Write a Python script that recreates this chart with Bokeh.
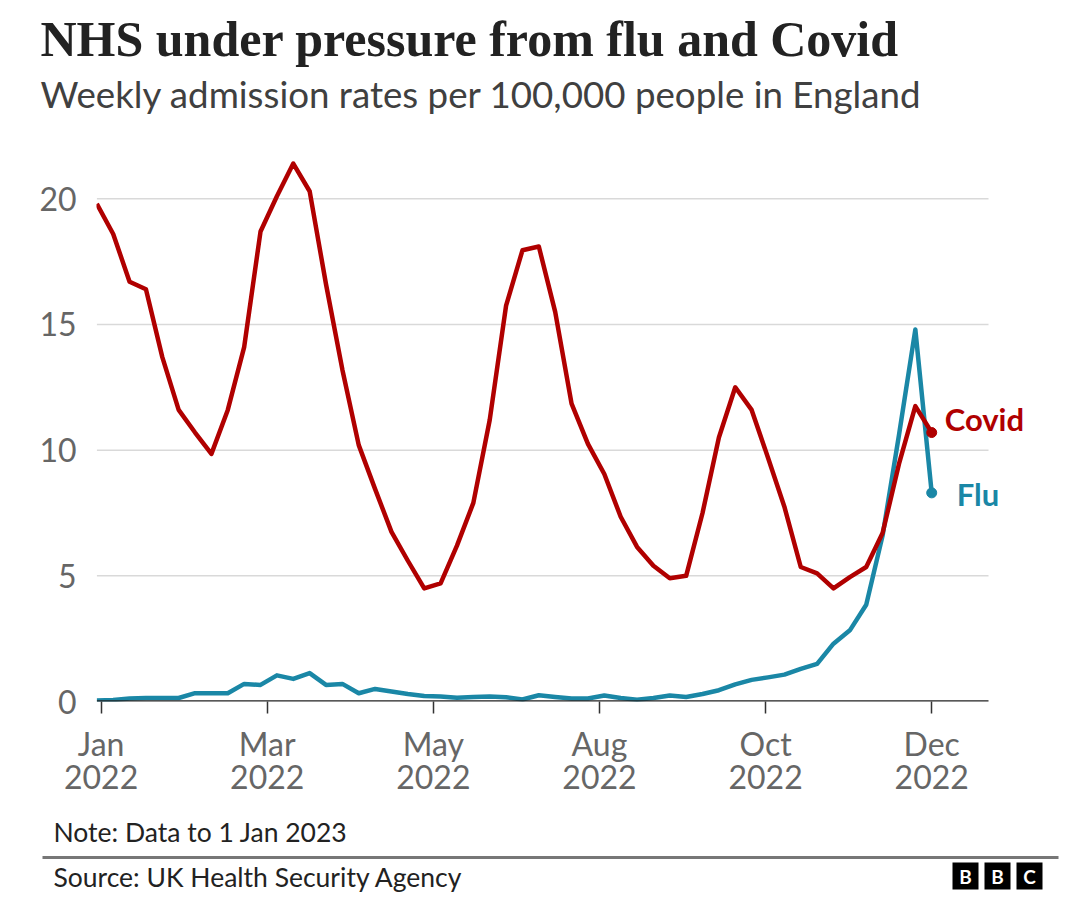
from bokeh.plotting import figure
from bokeh.layouts import column
from bokeh.models import Label, FixedTicker, Range1d, BoxAnnotation
from bokeh.embed import file_html
from bokeh.resources import INLINE

# ---- data (weekly admission rates per 100,000, England, 2022) ----
covid = [19.8, 18.6, 16.7, 16.4, 13.7, 11.6, 10.7, 9.85, 11.6, 14.1,
         18.7, 20.1, 21.4, 20.3, 16.6, 13.2, 10.2, 8.45, 6.75, 5.6,
         4.5, 4.7, 6.2, 7.9, 11.2, 15.75, 17.95, 18.1, 15.5, 11.85,
         10.25, 9.05, 7.35, 6.15, 5.4, 4.9, 5.0, 7.5, 10.5, 12.5,
         11.6, 9.7, 7.75, 5.35, 5.1, 4.5, 4.95, 5.35, 6.7, 9.45,
         11.75, 10.7]
flu = [0.04, 0.06, 0.12, 0.14, 0.14, 0.14, 0.33, 0.33, 0.33, 0.7,
       0.66, 1.04, 0.9, 1.13, 0.66, 0.7, 0.33, 0.5, 0.4, 0.3,
       0.22, 0.2, 0.15, 0.18, 0.2, 0.17, 0.08, 0.25, 0.18, 0.12,
       0.12, 0.24, 0.14, 0.07, 0.14, 0.24, 0.18, 0.3, 0.45, 0.68,
       0.86, 0.96, 1.07, 1.3, 1.5, 2.3, 2.83, 3.85, 6.6, 10.6,
       14.8, 8.3]
weeks = list(range(len(covid)))
tick_labels = ["Jan\n2022", "Mar\n2022", "May\n2022", "Aug\n2022", "Oct\n2022", "Dec\n2022"]
y_ticks = [0, 5, 10, 15, 20]

COVID = "#b00000"
FLU = "#1a87a6"
SANS = "Lato"
W = 1064
HEAD_H = 140
MAIN_H = 670
FOOT_H = 897 - HEAD_H - MAIN_H


def blank(height, y0, y1):
    f = figure(width=W, height=height, output_backend="svg", toolbar_location=None,
               title=None, x_range=Range1d(0, W), y_range=Range1d(y0, y1),
               min_border=0, x_axis_type=None, y_axis_type=None)
    f.outline_line_color = None
    f.xgrid.visible = False
    f.ygrid.visible = False
    f.border_fill_color = "white"
    f.frame_align = False
    return f


# ---- header ----
head = blank(HEAD_H, HEAD_H, 0)
head.add_layout(Label(x=40, y=38, text="NHS under pressure from flu and Covid",
                      text_font="Liberation Serif", text_font_style="bold",
                      text_font_size="50px", text_color="#222222", text_baseline="alphabetic"))
head.add_layout(Label(x=40, y=93, text="Weekly admission rates per 100,000 people in England",
                      text_font=SANS, text_font_size="36.7px", text_color="#404040",
                      text_baseline="alphabetic"))

# ---- main chart ----
x_end_grid = 54.47
p = figure(width=W, height=MAIN_H, output_backend="svg", toolbar_location=None, title=None,
           x_range=Range1d(-0.02, 57.89), y_range=Range1d(0, 22),
           min_border_left=96, min_border_right=20, min_border_top=8,
           min_border_bottom=MAIN_H - 8 - 553)
p.outline_line_color = None
p.border_fill_color = "white"
p.frame_align = False

step = (len(weeks) - 1 - 0.26) / (len(tick_labels) - 1)
xt = [0.26 + step * i for i in range(len(tick_labels))]
p.xaxis.ticker = FixedTicker(ticks=xt)
p.xaxis.major_label_overrides = {t: lab for t, lab in zip(xt, tick_labels)}
p.xaxis.axis_line_color = None
p.xaxis.major_tick_line_color = "#333333"
p.xaxis.major_tick_line_width = 1.5
p.xaxis.major_tick_out = 12
p.xaxis.major_tick_in = 0
p.xaxis.minor_tick_line_color = None
p.xaxis.major_label_text_font = SANS
p.xaxis.major_label_text_font_size = "32px"
p.xaxis.major_label_text_color = "#666666"
p.xaxis.major_label_text_line_height = 0.87
p.xaxis.major_label_standoff = 10

p.yaxis.ticker = FixedTicker(ticks=y_ticks)
p.yaxis.axis_line_color = None
p.yaxis.major_tick_line_color = None
p.yaxis.minor_tick_line_color = None
p.yaxis.major_label_text_font = SANS
p.yaxis.major_label_text_font_size = "32px"
p.yaxis.major_label_text_color = "#666666"
p.yaxis.major_label_standoff = 14

p.xgrid.visible = False
p.ygrid.visible = False
grid_y = y_ticks[1:]
p.segment(x0=[0] * len(grid_y), y0=grid_y, x1=[x_end_grid] * len(grid_y), y1=grid_y,
          line_color="#d9d9d9", line_width=1.5)

p.line(weeks, flu, line_color=FLU, line_width=4.5, line_join="round")
p.line(weeks, covid, line_color=COVID, line_width=4.5, line_join="round")
p.segment(x0=[0], y0=[0], x1=[x_end_grid], y1=[0], line_color="#222222", line_width=2.5)
p.scatter([weeks[-1]], [covid[-1]], size=10, color=COVID)
p.scatter([weeks[-1]], [flu[-1]], size=10, color=FLU)

p.add_layout(Label(x=weeks[-1], y=covid[-1], x_offset=13, y_offset=14, text="Covid",
                   text_font=SANS, text_font_style="bold", text_font_size="31px",
                   text_color=COVID, text_baseline="middle"))
p.add_layout(Label(x=weeks[-1], y=flu[-1], x_offset=25, y_offset=-1, text="Flu",
                   text_font=SANS, text_font_style="bold", text_font_size="31px",
                   text_color=FLU, text_baseline="middle"))

# ---- footer (data coordinates equal page pixels) ----
top = HEAD_H + MAIN_H
foot = blank(FOOT_H, 897, top)
foot.add_layout(Label(x=53, y=831, text="Note: Data to 1 Jan 2023", text_font=SANS,
                      text_font_size="26.5px", text_color="#222222", text_baseline="alphabetic"))
foot.add_layout(BoxAnnotation(left=42, right=1058, top=855.5, bottom=858.5,
                              fill_color="#777777", fill_alpha=1, line_color=None))
foot.add_layout(Label(x=53, y=876, text="Source: UK Health Security Agency", text_font=SANS,
                      text_font_size="26.5px", text_color="#222222", text_baseline="alphabetic"))
for i, letter in enumerate("BBC"):
    left = 952 + 32 * i
    foot.add_layout(BoxAnnotation(left=left, right=left + 26, top=862, bottom=889,
                                  fill_color="#000000", fill_alpha=1, line_color=None))
    foot.add_layout(Label(x=left + 13, y=876, text=letter, text_font=SANS,
                          text_font_style="bold", text_font_size="19px", text_color="white",
                          text_align="center", text_baseline="middle"))

layout = column(head, p, foot, spacing=0)
open("out.html", "w").write(file_html(layout, INLINE))
